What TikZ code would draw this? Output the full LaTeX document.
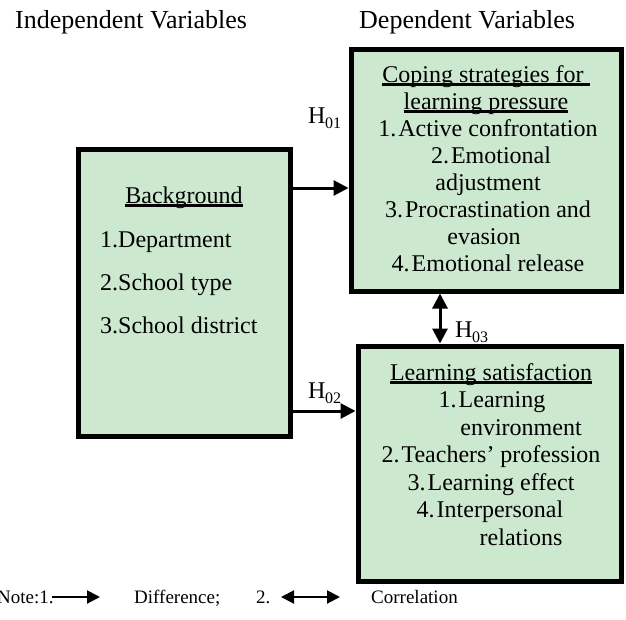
\documentclass[tikz,border=0pt]{standalone}
\usepackage{fontspec}
\setmainfont{Liberation Serif}
\usetikzlibrary{arrows.meta}
\definecolor{boxfill}{RGB}{204,232,207}
\newcommand\ulx[1]{\setbox0\hbox{#1}\rlap{\rule[-4pt]{\wd0}{2.8pt}}\box0}
\newcommand\Hs[1]{H\kern-0.5pt\raisebox{-5pt}{\fontsize{16}{16}\selectfont #1}}
\begin{document}
\begin{tikzpicture}[x=1pt,y=-1pt,
  box/.style={draw=black,line width=5pt,fill=boxfill,rectangle,inner sep=0pt},
  txt/.style={anchor=base,inner sep=0pt,font=\fontsize{24}{27}\selectfont},
  ttl/.style={anchor=base west,inner sep=0pt,font=\fontsize{26}{30}\selectfont},
  lgd/.style={anchor=base west,inner sep=0pt,font=\fontsize{19}{22}\selectfont},
  arr/.style={line width=3pt,-{Triangle[length=15pt,width=15pt]}},
  darr/.style={line width=3pt,{Triangle[length=15pt,width=15pt]}-{Triangle[length=15pt,width=15pt]}},
  larr/.style={line width=2pt,-{Triangle[length=13pt,width=13pt]}},
  ldarr/.style={line width=2pt,{Triangle[length=13pt,width=13pt]}-{Triangle[length=13pt,width=13pt]}}]
\useasboundingbox (0,0) rectangle (626,619);

% titles
\node[ttl] (t1) at (15,28) {Independent Variables};
\node[ttl] (t2) at (359,28) {Dependent Variables};

% boxes
\node[box,minimum width=212pt,minimum height=287pt] (L) at (184,292.5) {};
\node[box,minimum width=270pt,minimum height=242pt] (T) at (486,170) {};
\node[box,minimum width=263pt,minimum height=235pt] (B) at (489.5,463.5) {};

% left box text
\node[txt] (l0) at (184,203) {\ulx{Background}};
\node[txt,anchor=base west] (l1) at (100,247) {1.Department};
\node[txt,anchor=base west] (l2) at (100,290) {2.School type};
\node[txt,anchor=base west] (l3) at (100,333) {3.School district};

% top box text
\node[txt] (a0) at (486,82) {\ulx{Coping strategies for\ }};
\node[txt] (a1) at (486,109) {\ulx{learning pressure}};
\node[txt] (a2) at (488,136) {1.\kern2pt Active confrontation};
\node[txt] (a3) at (491,163) {2.\kern2pt Emotional};
\node[txt] (a4) at (488,190) {adjustment};
\node[txt] (a5) at (488,217) {3.\kern2pt Procrastination and};
\node[txt] (a6) at (484,244) {evasion};
\node[txt] (a7) at (488,271) {4.\kern2pt Emotional release};

% bottom box text
\node[txt] (b0) at (491,380) {\ulx{Learning satisfaction}};
\node[txt] (b1) at (492,407.5) {1.\kern2pt Learning};
\node[txt] (b2) at (521,435) {environment};
\node[txt] (b3) at (491,462.5) {2.\kern2pt Teachers’ profession};
\node[txt] (b4) at (491,490) {3.\kern2pt Learning effect};
\node[txt] (b5) at (490,517.5) {4.\kern2pt Interpersonal};
\node[txt] (b6) at (521,545) {relations};

% connectors
\coordinate (y1) at (0,188);
\coordinate (y2) at (0,411);
\coordinate (x3) at (440,0);
\draw[arr] (L.east |- y1) -- (T.west |- y1);
\draw[arr] (L.east |- y2) -- (B.west |- y2);
\draw[darr] (T.south -| x3) -- (B.north -| x3);

% hypothesis labels
\node[txt,anchor=base west] (h1) at (308,123) {\Hs{01}};
\node[txt,anchor=base west] (h2) at (308,398) {\Hs{02}};
\node[txt,anchor=base west] (h3) at (455,337) {\Hs{03}};

% legend
\node[lgd] (n1) at (-3,603) {Note:1.};
\coordinate (la1) at (52,597);
\coordinate (la2) at (100,597);
\draw[larr] (la1) -- (la2);
\node[lgd] (n2) at (134,603) {Difference;};
\node[lgd] (n3) at (256,603) {2.};
\coordinate (lb1) at (281,597);
\coordinate (lb2) at (340,597);
\draw[ldarr] (lb1) -- (lb2);
\node[lgd] (n4) at (371,603) {Correlation};
\end{tikzpicture}
\end{document}
